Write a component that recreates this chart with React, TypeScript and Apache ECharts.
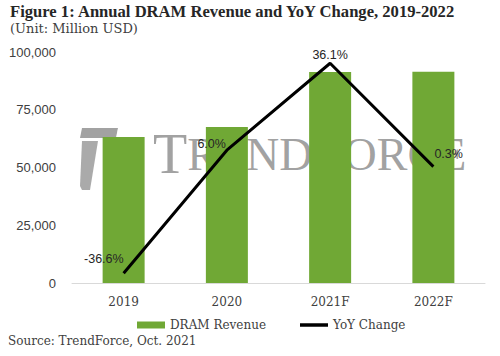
import React, { useEffect, useRef } from "react";
import * as echarts from "echarts";

const categories = ["2019", "2020", "2021F", "2022F"];
const revenue = [63200, 67500, 91300, 91500];
const yoyChange = [-36.6, 6.0, 36.1, 0.3];
const yTicks = [0, 25000, 50000, 75000, 100000];

const labelPlacement: any[] = [
  { position: "left", offset: [5, -14] },
  { position: "left", offset: [4, -6] },
  { position: "top", offset: [0, 3] },
  { position: "right", offset: [-4, -13] },
];

export default function App() {
  const ref = useRef<HTMLDivElement>(null);
  useEffect(() => {
    const chart = echarts.init(ref.current!, null, { renderer: "svg" });
    const serif = "'DejaVu Serif', serif";
    const sans = "'Liberation Sans', sans-serif";
    chart.setOption({
      animation: false,
      backgroundColor: "#ffffff",
      grid: { left: 72, right: 15, top: 52, bottom: 73 },
      xAxis: {
        type: "category",
        data: categories,
        axisLine: { lineStyle: { color: "#d9d9d9", width: 1 } },
        axisTick: { show: false },
        axisLabel: { color: "#404040", fontFamily: serif, fontSize: 12, margin: 13 },
      },
      yAxis: [
        {
          type: "value",
          min: yTicks[0],
          max: yTicks[yTicks.length - 1],
          interval: 25000,
          splitLine: { show: false },
          axisLine: { show: false },
          axisTick: { show: false },
          axisLabel: {
            color: "#404040",
            fontFamily: sans,
            fontSize: 13,
            margin: 16,
            formatter: (v: number) => v.toLocaleString("en-US"),
          },
        },
        {
          type: "value",
          min: -40,
          max: 40,
          show: false,
          splitLine: { show: false },
        },
      ],
      legend: {
        left: 132,
        top: 314,
        itemGap: 34,
        itemWidth: 28,
        itemHeight: 7,
        textStyle: { color: "#404040", fontFamily: serif, fontSize: 12 },
        data: [
          { name: "DRAM Revenue", icon: "rect" },
          { name: "YoY Change", icon: "path://M0,0 L28,0 L28,3.5 L0,3.5 Z", itemStyle: { color: "#000" } },
        ],
      },
      series: [
        {
          name: "DRAM Revenue",
          type: "bar",
          data: revenue,
          barWidth: 42,
          itemStyle: { color: "#70a835" },
          z: 2,
        },
        {
          name: "YoY Change",
          type: "line",
          yAxisIndex: 1,
          symbol: "circle",
          symbolSize: 0,
          showSymbol: true,
          lineStyle: { color: "#000000", width: 3 },
          itemStyle: { color: "#000000" },
          z: 5,
          data: yoyChange.map((v, i) => ({
            value: v,
            label: {
              show: true,
              position: labelPlacement[i].position,
              offset: labelPlacement[i].offset,
              formatter: v.toFixed(1) + "%",
              color: "#262626",
              fontFamily: sans,
              fontSize: 12.5,
            },
          })),
        },
      ],
      graphic: [
        {
          type: "text",
          left: 10,
          top: 3,
          style: {
            text: "Figure 1: Annual DRAM Revenue and YoY Change, 2019-2022",
            fontFamily: "'Liberation Serif', serif",
            fontWeight: "bold",
            fontSize: 16.6,
            fill: "#262626",
          },
        },
        {
          type: "text",
          left: 10,
          top: 22,
          style: {
            text: "(Unit: Million USD)",
            fontFamily: serif,
            fontSize: 13,
            fill: "#404040",
          },
        },
        {
          type: "text",
          left: 8,
          top: 335,
          style: {
            text: "Source: TrendForce, Oct. 2021",
            fontFamily: serif,
            fontSize: 12,
            fill: "#404040",
          },
        },
        {
          type: "group",
          z: 10,
          silent: true,
          children: [
            {
              type: "polygon",
              shape: { points: [[82, 128], [118, 128], [116, 138], [80, 138]] },
              style: { fill: "rgba(100,100,100,0.6)" },
            },
            {
              type: "polygon",
              shape: { points: [[118, 128], [142, 128], [140, 138], [116, 138]] },
              style: { fill: "rgba(255,255,255,0.45)" },
            },
            {
              type: "polygon",
              shape: { points: [[82, 141], [98, 141], [90, 190], [82, 190], [80, 186]] },
              style: { fill: "rgba(100,100,100,0.55)" },
            },
            {
              type: "polygon",
              shape: { points: [[102, 141], [140, 141], [138, 151], [100, 151]] },
              style: { fill: "rgba(255,255,255,0.4)" },
            },
            {
              type: "polygon",
              shape: { points: [[99, 155], [134, 155], [132, 166], [97, 166]] },
              style: { fill: "rgba(255,255,255,0.4)" },
            },
            {
              type: "polygon",
              shape: { points: [[97, 169], [108, 169], [103, 190], [93, 190]] },
              style: { fill: "rgba(255,255,255,0.4)" },
            },
            {
              type: "text",
              x: 153,
              y: 182,
              style: {
                text: "{a|T}{b|REND}{a|F}{b|ORCE}",
                textVerticalAlign: "bottom",
                rich: {
                  a: { fontFamily: "'Liberation Serif', serif", fontSize: 56, fill: "rgba(100,100,100,0.6)" },
                  b: { fontFamily: "'Liberation Serif', serif", fontSize: 46, fill: "rgba(100,100,100,0.6)" },
                },
              },
            },
          ],
        },
      ],
    });
    return () => chart.dispose();
  }, []);
  return <div ref={ref} style={{ width: 500, height: 356, position: "absolute", left: 0, top: 0 }} />;
}
